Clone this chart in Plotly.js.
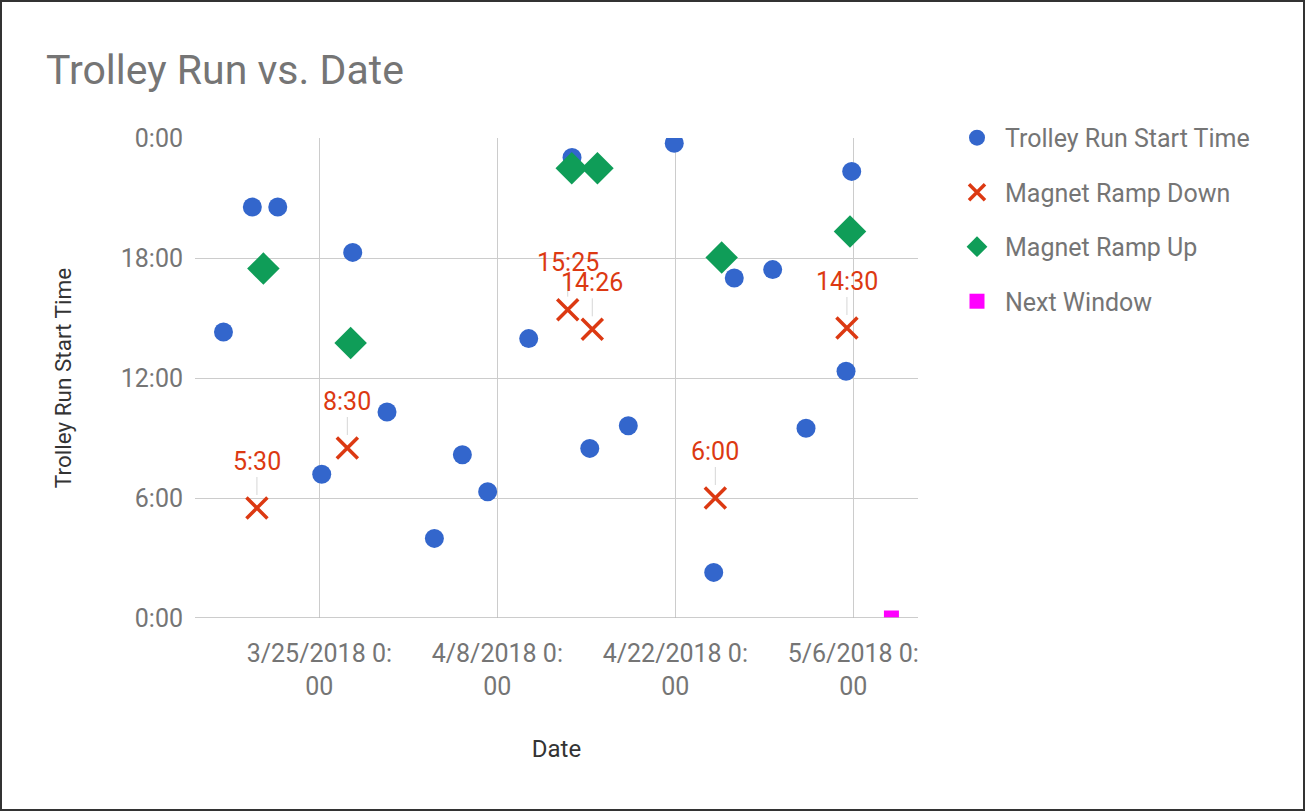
<!DOCTYPE html>
<html>
<head>
<meta charset="utf-8">
<script src="https://cdn.plot.ly/plotly-3.0.1.min.js"></script>
<style>
  html, body { margin: 0; padding: 0; background: #fff; }
  #frame { width: 1305px; height: 811px; box-sizing: border-box; border: 2px solid #333; overflow: hidden; }
  #chart { width: 1301px; height: 807px; }
</style>
</head>
<body>
<div id="frame"><div id="chart"></div></div>
<script>
// Trolley Run Start Time (date, hour of day)
const runDates = ['2018-03-17 11:00','2018-03-19 17:30','2018-03-21 17:30','2018-03-27 15:00','2018-03-25 04:30',
  '2018-03-30 07:45','2018-04-05 06:00','2018-04-07 05:45','2018-04-03 01:10','2018-04-10 11:15',
  '2018-04-13 21:00','2018-04-21 22:00','2018-05-05 21:00','2018-04-26 15:20','2018-04-29 15:50',
  '2018-05-05 10:20','2018-05-02 06:45','2018-04-18 07:15','2018-04-15 06:30','2018-04-25 00:30'];
const runHours = [14.3, 20.55, 20.55, 18.28, 7.19, 10.3, 8.16, 6.31, 3.98, 13.97,
  23.03, 23.74, 22.33, 17.0, 17.42, 12.34, 9.49, 9.61, 8.48, 2.28];

// Magnet Ramp Down
const downDates = ['2018-03-20 02:10','2018-03-27 04:50','2018-04-13 12:55','2018-04-15 11:17','2018-04-25 03:35','2018-05-05 12:00'];
const downHours = [5.5, 8.5, 15.4167, 14.4333, 6.0, 14.5];
const downLabels = ['5:30','8:30','15:25','14:26','6:00','14:30'];

// Magnet Ramp Up
const upDates = ['2018-03-20 14:20','2018-03-27 11:00','2018-04-13 20:30','2018-04-15 21:00','2018-04-25 15:30','2018-05-05 17:45'];
const upHours = [17.47, 13.75, 22.49, 22.49, 18.02, 19.33];

// Next Window
const nextDates = ['2018-05-09 00:00'];
const nextHours = [0];

// Axis ticks
const xTickVals = ['2018-03-25','2018-04-08','2018-04-22','2018-05-06'];
const xTickText = ['3/25/2018 0:<br>00','4/8/2018 0:<br>00','4/22/2018 0:<br>00','5/6/2018 0:<br>00'];
const yTickVals = [0, 6, 12, 18, 24];
const yTickText = ['0:00','6:00','12:00','18:00','0:00'];

const FONT = 'Roboto, "Noto Sans", sans-serif';
const RED = '#dc3912';

const traces = [
  { type: 'scatter', mode: 'markers', name: 'Trolley Run Start Time', legendgroup: 'a',
    x: runDates, y: runHours,
    marker: { color: '#3366cc', size: 19, symbol: 'circle' } },
  { type: 'scatter', mode: 'markers', name: 'Magnet Ramp Down', legendgroup: 'b',
    x: downDates, y: downHours,
    marker: { color: RED, size: 21, symbol: 'x-thin-open', line: { color: RED, width: 3.5 } } },
  { type: 'scatter', mode: 'markers', name: 'Magnet Ramp Up', legendgroup: 'c',
    x: upDates, y: upHours,
    marker: { color: '#0f9d58', size: 25, symbol: 'diamond' } },
  { type: 'scatter', mode: 'markers', name: 'Next Window', legendgroup: 'd',
    x: nextDates, y: nextHours,
    marker: { color: '#ff00ff', size: 15, symbol: 'square' } }
];

const annotations = downDates.map((d, i) => ({
  x: d, y: downHours[i], xref: 'x', yref: 'y',
  text: downLabels[i], showarrow: true, arrowhead: 0, arrowwidth: 1,
  arrowcolor: '#d6d6d6', ax: 0, ay: -47, standoff: 13,
  font: { family: FONT, size: 25, color: RED }
}));

const layout = {
  width: 1301, height: 807,
  paper_bgcolor: '#fff', plot_bgcolor: '#fff',
  margin: { l: 193, r: 385, t: 135.5, b: 191 },
  font: { family: FONT, color: '#757575' },
  title: { text: 'Trolley Run vs. Date', xref: 'container', yref: 'container',
    x: 44 / 1301, xanchor: 'left', y: 1 - 68 / 807, yanchor: 'middle',
    font: { family: FONT, size: 41, color: '#757575' } },
  xaxis: {
    type: 'date', range: ['2018-03-15 05:15', '2018-05-11 02:10'],
    tickvals: xTickVals, ticktext: xTickText,
    tickfont: { family: FONT, size: 25, color: '#757575' },
    ticks: 'outside', ticklen: 13, tickcolor: 'rgba(0,0,0,0)',
    showgrid: true, gridcolor: '#cccccc', gridwidth: 1,
    zeroline: false, showline: false,
    title: { text: 'Date', font: { family: FONT, size: 24, color: '#333333' }, standoff: 40 }
  },
  yaxis: {
    range: [0, 24], tickvals: yTickVals, ticktext: yTickText,
    tickfont: { family: FONT, size: 25, color: '#757575' },
    ticks: 'outside', ticklen: 6, tickcolor: 'rgba(0,0,0,0)',
    showgrid: true, gridcolor: '#cccccc', gridwidth: 1,
    zeroline: false, showline: false,
    title: { text: 'Trolley Run Start Time', font: { family: FONT, size: 22.5, color: '#333333' }, standoff: 42 }
  },
  showlegend: true,
  legend: {
    x: (947 - 193) / 723, xanchor: 'left', y: 1.048, yanchor: 'top',
    traceorder: 'grouped', tracegroupgap: 19,
    font: { family: FONT, size: 25, color: '#757575' },
    bgcolor: 'rgba(0,0,0,0)', itemwidth: 46
  },
  shapes: [
    { type: 'line', xref: 'paper', yref: 'y', x0: 0, x1: 1, y0: 0, y1: 0, line: { color: '#bbbbbb', width: 1.5 } }
  ],
  annotations: annotations
};

Plotly.newPlot('chart', traces, layout, { displayModeBar: false, staticPlot: true });
</script>
</body>
</html>
